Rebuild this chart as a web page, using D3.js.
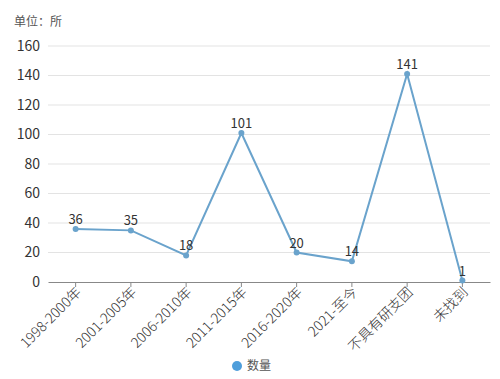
<!DOCTYPE html>
<html lang="zh">
<head>
<meta charset="UTF-8">
<script src="https://d3js.org/d3.v7.min.js"></script>
<style>
  body { margin: 0; background: #fff; font-family: "Noto Sans CJK SC", "Noto Sans", sans-serif; }
  svg { display: block; }
</style>
</head>
<body>
<svg width="500" height="379"></svg>
<script>
const categories = ["1998-2000年", "2001-2005年", "2006-2010年", "2011-2015年", "2016-2020年", "2021-至今", "不具有研支团", "未找到"];
const values = [36, 35, 18, 101, 20, 14, 141, 1];
const yTicks = [0, 20, 40, 60, 80, 100, 120, 140, 160];
const seriesName = "数量";
const unitLabel = "单位：所";

const svg = d3.select("svg");
const margin = { left: 48, right: 10, top: 46, bottom: 97 };
const width = 500, height = 379;

const x = d3.scaleBand().domain(categories).range([margin.left, width - margin.right]);
const y = d3.scaleLinear().domain([0, 160]).range([height - margin.bottom, margin.top]);
const cx = d => x(d) + x.bandwidth() / 2;

// grid
svg.append("g").selectAll("line").data(yTicks.filter(t => t > 0)).join("line")
  .attr("x1", margin.left).attr("x2", width - margin.right)
  .attr("y1", d => y(d)).attr("y2", d => y(d))
  .attr("stroke", "#e3e3e3").attr("stroke-width", 1);

// y labels
svg.append("g").selectAll("text").data(yTicks).join("text")
  .attr("x", 40).attr("y", d => y(d)).attr("dy", "0.35em")
  .attr("text-anchor", "end").attr("font-size", 14).attr("fill", "#333")
  .text(d => d);

svg.append("text").attr("x", 14).attr("y", 26)
  .attr("font-size", 12).attr("fill", "#555").text(unitLabel);

// x axis
const xAxis = svg.append("g").attr("transform", `translate(0,${y(0)})`)
  .call(d3.axisBottom(x).tickSize(5).tickSizeOuter(0).tickPadding(4));
xAxis.select(".domain").attr("stroke", "#888");
xAxis.selectAll(".tick line").attr("stroke", "#888");
xAxis.selectAll(".tick text")
  .attr("font-size", 14).attr("fill", "#333")
  .attr("font-family", "\"Noto Sans CJK SC\", sans-serif")
  .attr("font-weight", 300)
  .attr("text-anchor", "end")
  .attr("transform", "translate(3,2) rotate(-45)")
  .attr("dy", "0.35em").attr("y", 4).attr("x", -4);

// line
const line = d3.line().x((d, i) => cx(categories[i])).y(d => y(d));
svg.append("path").datum(values)
  .attr("d", line).attr("fill", "none")
  .attr("stroke", "#6aa3cc").attr("stroke-width", 2);

svg.append("g").selectAll("circle").data(values).join("circle")
  .attr("cx", (d, i) => cx(categories[i])).attr("cy", d => y(d))
  .attr("r", 3).attr("fill", "#6aa3cc");

svg.append("g").selectAll("text").data(values).join("text")
  .attr("x", (d, i) => cx(categories[i])).attr("y", d => y(d) - 5)
  .attr("text-anchor", "middle").attr("font-size", 13).attr("fill", "#333")
  .text(d => d);

// legend
svg.append("circle").attr("cx", 237).attr("cy", 366).attr("r", 5).attr("fill", "#4e9edb");
svg.append("text").attr("x", 247).attr("y", 366).attr("dy", "0.35em")
  .attr("font-size", 12).attr("fill", "#555").text(seriesName);
</script>
</body>
</html>
